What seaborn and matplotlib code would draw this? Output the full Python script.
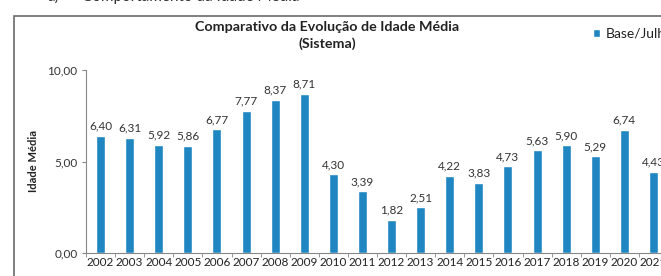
import seaborn as sns
import numpy as np
import pandas as pd
import matplotlib.pyplot as plt
from matplotlib.patches import Rectangle

years = [str(y) for y in range(2002, 2022)]
idade_media = [6.40, 6.31, 5.92, 5.86, 6.77, 7.77, 8.37, 8.71, 4.30, 3.39,
               1.82, 2.51, 4.22, 3.83, 4.73, 5.63, 5.90, 5.29, 6.74, 4.43]
y_ticks = [0, 5, 10]
series_name = "Base/Julho"
bar_color = "#1f86c2"

sns.set_style("white")
plt.rcParams['font.family'] = ['Lato', 'DejaVu Sans']

df = pd.DataFrame({"Ano": years, "Idade": idade_media})

fig = plt.figure(figsize=(6.61, 2.76), dpi=100)
fig.patch.set_facecolor("white")

# outer chart frame (cropped on the right and bottom)
fig.add_artist(Rectangle((14 / 661, -0.1), 1.2, 1 - 16 / 276 + 0.1,
                         transform=fig.transFigure, fill=False,
                         edgecolor="#6a6a6a", linewidth=1.2))

# section heading cut off at the top of the scan
fig.text(47 / 661, 1 + 3 / 276, "a)", fontsize=11, color="#333333", va="center")
fig.text(82 / 661, 1 + 3 / 276, "Comportamento da Idade Média", fontsize=11,
         color="#333333", va="center")

ax = fig.add_axes([86 / 661, 1 - 253 / 276, 582 / 661, (253 - 70) / 276])
sns.barplot(data=df, x="Ano", y="Idade", color=bar_color, width=0.31,
            saturation=1, ax=ax, label=series_name)

ax.set_xlim(-0.5, len(years) - 0.5)
ax.set_ylim(0, 10)
ax.set_yticks(y_ticks)
ax.set_yticklabels([f"{v:.2f}".replace(".", ",") for v in y_ticks],
                   fontsize=8.5, color="#333333")
ax.set_xticks(range(len(years)))
ax.set_xticklabels(years, fontsize=8.5, color="#222222")
ax.set_xlabel("")
ax.set_ylabel("Idade Média", fontsize=8, fontweight="bold", color="#222222",
              labelpad=6)

# category boundary ticks like the spreadsheet original
ax.set_xticks(np.arange(-0.5, len(years), 1), minor=True)
ax.tick_params(axis="x", which="major", length=0, pad=3)
ax.tick_params(axis="x", which="minor", length=3, color="#888888", direction="out")
ax.tick_params(axis="y", length=3, color="#888888", direction="out", pad=3)
ax.xaxis.set_tick_params(bottom=True, which="both")
ax.yaxis.set_tick_params(left=True)

for s in ["top", "right"]:
    ax.spines[s].set_visible(False)
for s in ["left", "bottom"]:
    ax.spines[s].set_color("#888888")
    ax.spines[s].set_linewidth(0.8)

for i, v in enumerate(idade_media):
    ax.text(i, v + 0.22, f"{v:.2f}".replace(".", ","), ha="center", va="bottom",
            fontsize=8.5, color="#333333")

fig.text(327 / 661, 1 - 27 / 276, "Comparativo da Evolução de Idade Média",
         ha="center", va="center", fontsize=10.3, fontweight="bold", color="#222222")
fig.text(327 / 661, 1 - 44 / 276, "(Sistema)",
         ha="center", va="center", fontsize=10.3, fontweight="bold", color="#222222")

leg = ax.legend(loc="center left", bbox_to_anchor=(580 / 661, 1 - 34 / 276),
                bbox_transform=fig.transFigure, frameon=False, fontsize=10,
                handlelength=0.55, handleheight=0.55, handletextpad=0.4)
for t in leg.get_texts():
    t.set_color("#222222")

fig.savefig("out.png", dpi=100, facecolor="white")
